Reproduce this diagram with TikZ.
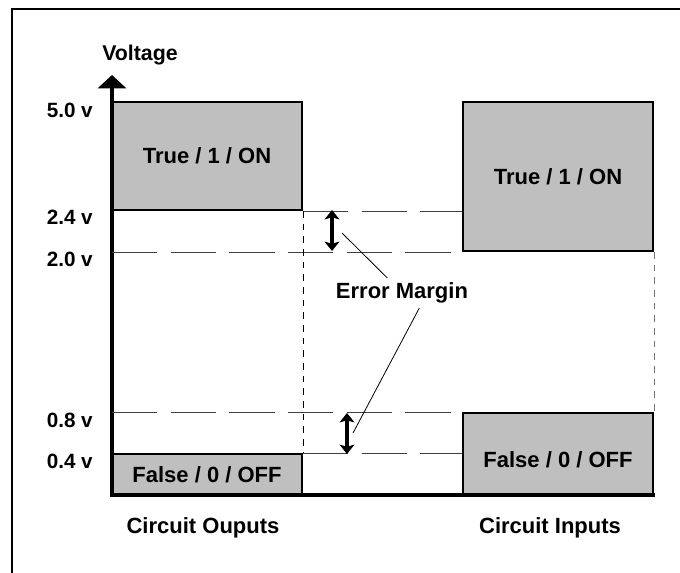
\documentclass[tikz,border=0pt]{standalone}
\usepackage{fontspec}
\setmainfont{Liberation Sans}
\usetikzlibrary{positioning, arrows.meta}

\begin{document}
\begin{tikzpicture}[
  x=0.75pt, y=-0.75pt,
  font=\bfseries\fontsize{16.5}{19}\selectfont,
  logic/.style={
    draw, line width=1.5pt, fill=black!25,
    minimum width=142.5pt, inner sep=0pt
  },
  level/.style={
    font=\bfseries\fontsize{15.5}{17}\selectfont,
    anchor=east, inner sep=0pt
  },
  guide/.style={draw=black!75, line width=0.6pt, dash pattern=on 34pt off 10pt},
  drop/.style={draw=black, line width=0.6pt, dash pattern=on 5pt off 4.5pt},
  margin/.style={
    {Stealth[length=7pt, width=11pt, inset=1.5pt]}-{Stealth[length=7pt, width=11pt, inset=1.5pt]},
    line width=3pt
  },
  axis/.style={line width=3.4pt, -{Triangle[length=10pt, width=21pt]}},
]
\useasboundingbox (0,0) rectangle (680,572);
\draw[line width=1.5pt] (12,9) rectangle (720,620);

% logic levels of the two sides
\node[logic, minimum height=81pt]     (outTrue)  at (207,156)   {True / 1 / ON};
\node[logic, minimum height=30.75pt]  (outFalse) at (207,474.5) {False / 0 / OFF};
\node[logic, minimum height=111.75pt] (inTrue)   at (558,176.5) {True / 1 / ON};
\node[logic, minimum height=61.5pt, text height=21pt] (inFalse) at (558,454) {False / 0 / OFF};

% axes
\coordinate (orig) at (112,495);
\coordinate (vtop) at (112,75);
\coordinate (hend) at (655,495);
\draw[axis] (hend) -- (orig) -- (vtop);
\node[font=\bfseries\fontsize{16}{18}\selectfont] (vlabel) at (140,55) {Voltage};

% thresholds
\draw[guide] (outTrue.south east) -- (outTrue.south east -| inTrue.west);
\draw[guide] (orig |- inTrue.south) -- (inTrue.south west);
\draw[guide] (orig |- inFalse.north) -- (inFalse.north west);
\draw[guide] (outFalse.north east) -- (outFalse.north east -| inFalse.west);
\draw[drop] (outTrue.south east) -- (outFalse.north east);
\draw[drop, draw=black!55] (inTrue.south east) -- (inFalse.north east);

\node[level] (v50) at (93,110) {5.0 v};
\node[level] (v24) at (93,217) {2.4 v};
\node[level] (v20) at (93,259) {2.0 v};
\node[level] (v08) at (93,420) {0.8 v};
\node[level] (v04) at (93,461) {0.4 v};

% error margins
\coordinate (hiA) at (332,210);
\coordinate (hiB) at (332,251);
\coordinate (loA) at (347,413);
\coordinate (loB) at (347,454);
\draw[margin] (hiA) -- (hiB);
\draw[margin] (loA) -- (loB);

\node (err) at (402,293) {Error Margin};
\coordinate (hiPt) at (342,233);
\coordinate (loPt) at (353,433);
\draw[line width=0.6pt] ([xshift=-11pt]err.north) -- (hiPt);
\draw[line width=0.6pt] ([xshift=13pt]err.south) -- (loPt);

\node (outName) at (203,528) {Circuit Ouputs};
\node (inName)  at (550,528) {Circuit Inputs};

\end{tikzpicture}
\end{document}
